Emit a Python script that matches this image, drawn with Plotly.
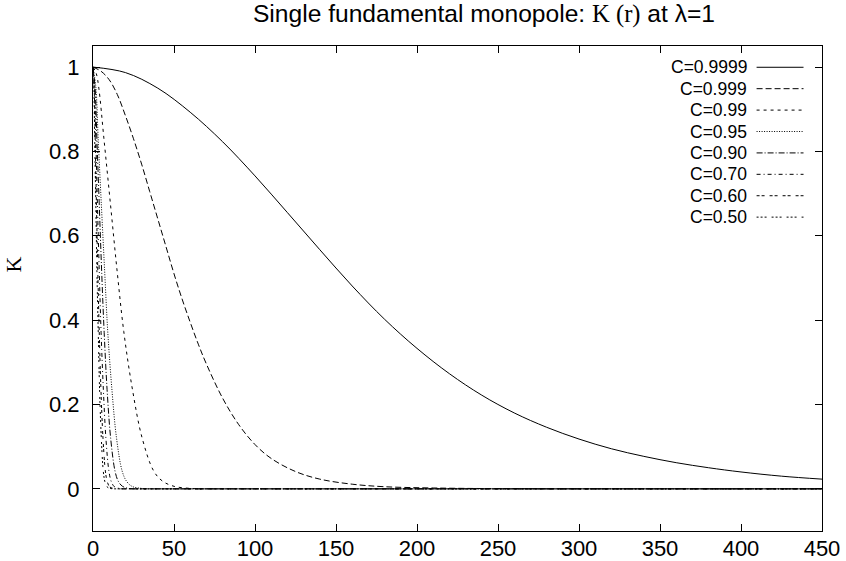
import plotly.graph_objects as go

# K(r), one list pair per C value
labels = ["C=0.9999", "C=0.999", "C=0.99", "C=0.95", "C=0.90", "C=0.70", "C=0.60", "C=0.50"]

r_9999 = [0, 20, 40, 60, 80, 100, 120, 140, 160, 180, 200, 220, 240, 260, 280, 300, 320, 340, 360, 380,
          400, 425, 450]
k_9999 = [1.0, 0.987, 0.950, 0.893, 0.823, 0.742, 0.655, 0.567, 0.481, 0.402, 0.333, 0.273, 0.222, 0.180,
          0.146, 0.118, 0.095, 0.077, 0.062, 0.050, 0.040, 0.030, 0.023]

r_999 = [0, 5, 10, 15, 20, 25, 30, 35, 40, 45, 50, 55, 60, 65, 70, 80, 90, 100, 110, 125, 140, 160, 180,
         210, 250, 300, 350, 450]
k_999 = [1.0, 0.99, 0.97, 0.935, 0.885, 0.83, 0.77, 0.705, 0.64, 0.575, 0.51, 0.45, 0.395, 0.343, 0.296,
         0.215, 0.152, 0.105, 0.072, 0.041, 0.023, 0.011, 0.005, 0.002, 0.0005, 0, 0, 0]

r_99 = [0, 2, 3.6, 6.7, 10.8, 14.9, 19, 24.2, 30.3, 37.5, 43, 50, 60, 70, 80, 450]
k_99 = [1.0, 0.985, 0.95, 0.832, 0.674, 0.516, 0.373, 0.239, 0.121, 0.042, 0.018, 0.006, 0.001, 0, 0, 0]

r_95 = [0, 1.8, 3.2, 5.2, 7.2, 9.1, 11.6, 14.5, 18, 20.7, 24, 30, 35, 40, 450]
k_95 = [1.0, 0.95, 0.83, 0.67, 0.516, 0.373, 0.239, 0.121, 0.042, 0.018, 0.006, 0.001, 0, 0, 0]

r_90 = [0, 1.3, 2.4, 3.9, 5.4, 6.9, 8.7, 10.9, 13.6, 15.6, 18.2, 22, 26, 30, 450]
k_90 = [1.0, 0.95, 0.83, 0.67, 0.51, 0.37, 0.235, 0.12, 0.042, 0.018, 0.006, 0.001, 0, 0, 0]

r_70 = [0, 1, 1.8, 2.8, 3.9, 5, 6.4, 8, 9.9, 11.3, 13.2, 16, 19, 22, 450]
k_70 = [1.0, 0.94, 0.82, 0.665, 0.51, 0.37, 0.235, 0.118, 0.04, 0.017, 0.005, 0.001, 0, 0, 0]

r_60 = [0, 0.8, 1.4, 2.2, 3.0, 3.9, 4.9, 6.2, 7.7, 8.8, 10.2, 12.5, 15, 18, 450]
k_60 = [1.0, 0.94, 0.82, 0.66, 0.51, 0.365, 0.235, 0.118, 0.04, 0.017, 0.005, 0.001, 0, 0, 0]

r_50 = [0, 0.6, 1.1, 1.8, 2.5, 3.3, 4.1, 5.2, 6.4, 7.4, 8.6, 10.5, 13, 16, 450]
k_50 = [1.0, 0.94, 0.82, 0.66, 0.50, 0.36, 0.23, 0.115, 0.04, 0.016, 0.005, 0.001, 0, 0, 0]

series = [(r_9999, k_9999), (r_999, k_999), (r_99, k_99), (r_95, k_95),
          (r_90, k_90), (r_70, k_70), (r_60, k_60), (r_50, k_50)]
dashes = ["solid", "6px,3px", "3px,4px", "1px,1.5px", "6px,2px,1px,2px",
          "4px,3px,1px,3px", "3px,2px,3px,5px", "2px,2px,2px,2px,2px,5px"]

# plot box in pixels, as in the reference
L, R, T, B = 92.5, 822.5, 46, 531.5

fig = go.Figure()
for (r, k), name, d in zip(series, labels, dashes):
    fig.add_trace(go.Scatter(x=r, y=k, name=name, mode="lines", showlegend=False, hoverinfo="skip",
                             line=dict(color="black", width=1, dash=d, shape="spline", smoothing=1.0)))

# gnuplot-style key: right-aligned text, line sample to its right
for i, (name, d) in enumerate(zip(labels, dashes)):
    py = 67.3 + i * 21.43
    yy = (B - py) / (B - T)
    fig.add_annotation(x=(749 - L) / (R - L), y=yy, xref="paper", yref="paper", text=name, showarrow=False,
                       xanchor="right", yanchor="middle", font=dict(size=17.5))
    fig.add_shape(type="line", xref="paper", yref="paper", x0=(757 - L) / (R - L), x1=(804 - L) / (R - L),
                  y0=yy, y1=yy, line=dict(color="black", width=1, dash=d))

fig.add_annotation(x=(13 - L) / (R - L), y=(B - 265) / (B - T), xref="paper", yref="paper", text="K",
                   showarrow=False, textangle=-90, font=dict(family="Liberation Serif", size=22),
                   xanchor="center", yanchor="middle")

fig.update_layout(
    width=846, height=561,
    margin=dict(l=L, r=846 - R, t=T, b=561 - B),
    plot_bgcolor="white", paper_bgcolor="white",
    font=dict(family="Liberation Sans, Arial, sans-serif", size=22, color="black"),
    title=dict(text="Single fundamental monopole: <span style='font-family:Liberation Serif'>K (r)</span> at λ=1",
               x=484 / 846, xanchor="center", xref="container",
               y=1 - 13 / 561, yanchor="middle", yref="container", font=dict(size=24.6)),
    xaxis=dict(range=[0, 450], dtick=50, tick0=0, ticks="inside", ticklen=7, tickcolor="black",
               showline=True, linecolor="black", linewidth=1, mirror="allticks", showgrid=False,
               zeroline=False, ticklabelstandoff=-2, automargin=False),
    yaxis=dict(range=[-0.1, 1.05], dtick=0.2, tick0=0, ticks="inside", ticklen=7, tickcolor="black",
               showline=True, linecolor="black", linewidth=1, mirror="allticks", showgrid=False,
               zeroline=False, ticklabelstandoff=8, automargin=False),
)

# drop the browser's default 8px body margin so the figure sits at the window origin
fig.write_html("out.html", config={"displayModeBar": False},
               post_script="document.body.style.margin='0';")
